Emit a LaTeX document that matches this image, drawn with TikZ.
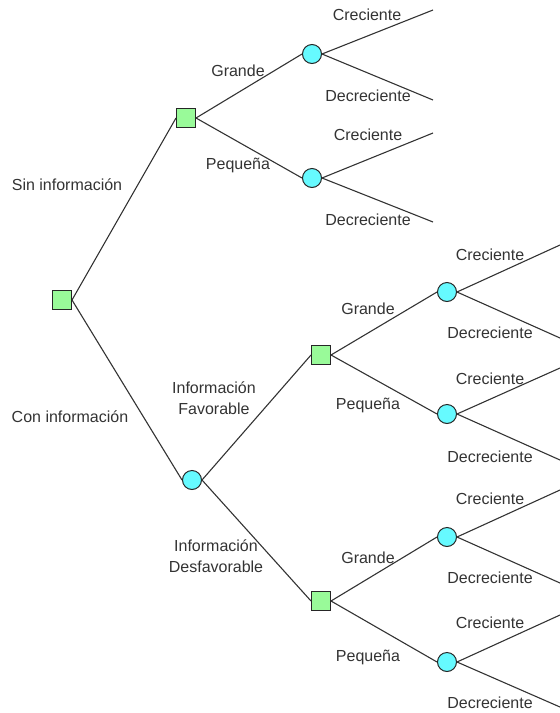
\documentclass[tikz,border=0pt]{standalone}
\usepackage{fontspec}
\setmainfont{Liberation Sans}
\definecolor{decfill}{RGB}{153,250,153}
\definecolor{chnfill}{RGB}{102,250,255}
\begin{document}
\begin{tikzpicture}[x=1pt,y=-1pt,
  dec/.style={draw=black!85,fill=decfill,minimum size=19pt,inner sep=0pt,line width=1pt},
  chn/.style={circle,draw=black!85,fill=chnfill,minimum size=19pt,inner sep=0pt,line width=1pt},
  br/.style={draw=black!80,line width=1.1pt},
  lab/.style={font=\fontsize{16}{18}\selectfont,text=black!80,inner sep=0pt,align=center}]
\useasboundingbox (0,0) rectangle (560,713);
% nodes
\node[dec] (r) at (62,300) {};
\node[dec] (s1) at (186,118) {};
\node[chn] (c1) at (312,54) {};
\node[chn] (c2) at (312,178) {};
\node[chn] (ci) at (192,480) {};
\node[dec] (s2) at (321,355) {};
\node[dec] (s3) at (321,601) {};
\node[chn] (c3) at (447,292) {};
\node[chn] (c4) at (447,414) {};
\node[chn] (c5) at (447,537) {};
\node[chn] (c6) at (447,662) {};
% end coordinates
\coordinate (e1) at (433,10);
\coordinate (e2) at (433,100);
\coordinate (e3) at (433,133);
\coordinate (e4) at (433,222);
\coordinate (e5) at (560,245);
\coordinate (e6) at (560,338);
\coordinate (e7) at (560,368);
\coordinate (e8) at (560,460);
\coordinate (e9) at (560,490);
\coordinate (e10) at (560,583);
\coordinate (e11) at (560,615);
\coordinate (e12) at (560,707);
% branches
\draw[br] (r.east) -- (s1.west);
\draw[br] (r.east) -- (ci.west);
\draw[br] (s1.east) -- (c1.west);
\draw[br] (s1.east) -- (c2.west);
\draw[br] (c1.east) -- (e1);
\draw[br] (c1.east) -- (e2);
\draw[br] (c2.east) -- (e3);
\draw[br] (c2.east) -- (e4);
\draw[br] (ci.east) -- (s2.west);
\draw[br] (ci.east) -- (s3.west);
\draw[br] (s2.east) -- (c3.west);
\draw[br] (s2.east) -- (c4.west);
\draw[br] (s3.east) -- (c5.west);
\draw[br] (s3.east) -- (c6.west);
\draw[br] (c3.east) -- (e5);
\draw[br] (c3.east) -- (e6);
\draw[br] (c4.east) -- (e7);
\draw[br] (c4.east) -- (e8);
\draw[br] (c5.east) -- (e9);
\draw[br] (c5.east) -- (e10);
\draw[br] (c6.east) -- (e11);
\draw[br] (c6.east) -- (e12);
% labels
\node[lab] (l1) at (67,185) {Sin información};
\node[lab] (l2) at (70,417) {Con información};
\node[lab] (l3) at (238,71) {Grande};
\node[lab] (l4) at (238,165) {Pequeña};
\node[lab] (l5) at (367,15) {Creciente};
\node[lab] (l6) at (368,96) {Decreciente};
\node[lab] (l7) at (368,135) {Creciente};
\node[lab] (l8) at (368,220) {Decreciente};
\node[lab,font=\fontsize{16}{21}\selectfont] (l9) at (214,398) {Información\\Favorable};
\node[lab,font=\fontsize{16}{21}\selectfont] (l10) at (216,556) {Información\\Desfavorable};
\node[lab] (l11) at (368,309) {Grande};
\node[lab] (l12) at (368,405) {Pequeña};
\node[lab] (l13) at (368,558) {Grande};
\node[lab] (l14) at (368,657) {Pequeña};
\node[lab] (l15) at (490,255) {Creciente};
\node[lab] (l16) at (490,333) {Decreciente};
\node[lab] (l17) at (490,379) {Creciente};
\node[lab] (l18) at (490,457) {Decreciente};
\node[lab] (l19) at (490,499) {Creciente};
\node[lab] (l20) at (490,578) {Decreciente};
\node[lab] (l21) at (490,623) {Creciente};
\node[lab] (l22) at (490,703) {Decreciente};
\end{tikzpicture}
\end{document}
